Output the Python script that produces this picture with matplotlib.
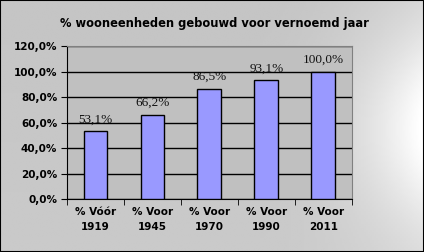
import numpy as np
import matplotlib.pyplot as plt
from matplotlib.ticker import FixedLocator, NullFormatter

categories = ['% Vóór\n1919', '% Voor\n1945', '% Voor\n1970', '% Voor\n1990', '% Voor\n2011']
values = [53.1, 66.2, 86.5, 93.1, 100.0]
yticks = [0, 20, 40, 60, 80, 100, 120]

fig = plt.figure(figsize=(4.24, 2.52), dpi=100)

# gradient background: grey, lighter towards the middle of the right edge
bg = fig.add_axes([0, 0, 1, 1], zorder=-10)
gx, gy = np.meshgrid(np.linspace(0, 1, 200), np.linspace(0, 1, 120))
fx = np.clip((gx - 0.6) / 0.4, 0, 1) ** 2
fy = np.exp(-((gy - 0.5) / 0.38) ** 2)
grad = 0.77 + 0.23 * fx * (0.2 + 0.8 * fy) + 0.02 * (1 - gy)
bg.imshow(grad, cmap='gray', vmin=0, vmax=1, aspect='auto', origin='lower', extent=[0, 1, 0, 1])
bg.set_axis_off()
fig.patches.append(plt.Rectangle((0, 0), 1, 1, transform=fig.transFigure,
                                 fill=False, edgecolor='black', linewidth=1.5))

ax = fig.add_axes([0.158, 0.21, 0.672, 0.607])
ax.set_facecolor('#c0c0c0')
x = np.arange(len(categories))
ax.bar(x, values, width=0.42, color='#9999ff', edgecolor='black', linewidth=1, zorder=3)
for xi, v in zip(x, values):
    ax.text(xi, v + 7, f'{v:.1f}%'.replace('.', ','), ha='center', va='baseline',
            fontsize=9.5, family='Liberation Serif', color='#111111', zorder=4)

ax.set_xlim(-0.5, len(categories) - 0.5)
ax.set_ylim(0, 120)
ax.set_yticks(yticks)
ax.set_yticklabels([f'{t:.1f}%'.replace('.', ',') for t in yticks],
                   fontsize=7.5, fontweight='bold')
ax.yaxis.grid(True, color='black', linewidth=1, zorder=1)
ax.set_xticks(x)
ax.set_xticklabels(categories, fontsize=7.5, fontweight='bold', linespacing=1.6)
ax.xaxis.set_minor_locator(FixedLocator(np.arange(-0.5, len(categories), 1)))
ax.xaxis.set_minor_formatter(NullFormatter())
ax.tick_params(axis='x', which='major', length=0, pad=6)
ax.tick_params(axis='x', which='minor', length=4, direction='out')
ax.tick_params(axis='y', length=4, direction='out', pad=3)

for s in ['top', 'right']:
    ax.spines[s].set_color('#808080')
ax.spines['left'].set_color('black')
ax.spines['bottom'].set_color('black')

fig.text(0.505, 0.905, '% wooneenheden gebouwd voor vernoemd jaar', ha='center', va='center',
         fontsize=8.3, fontweight='bold')

fig.savefig('out.png', dpi=100)
